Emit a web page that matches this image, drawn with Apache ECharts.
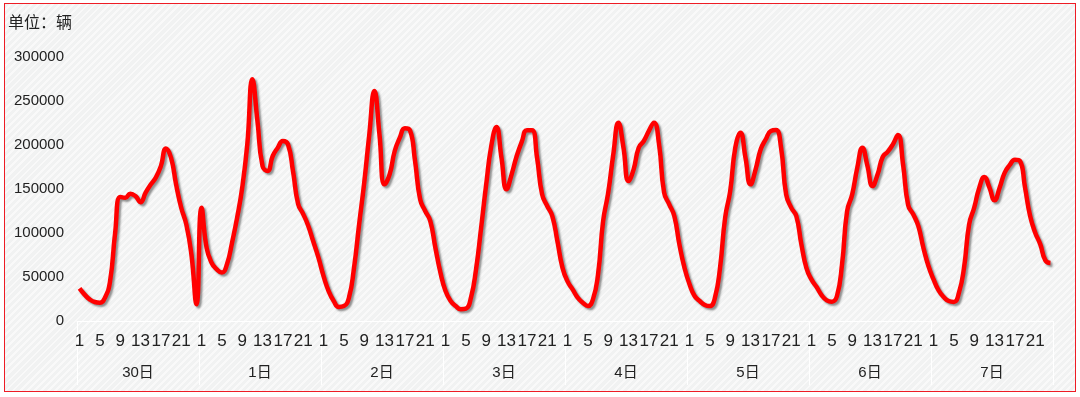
<!DOCTYPE html>
<html>
<head>
<meta charset="utf-8">
<script src="https://cdn.jsdelivr.net/npm/echarts@6/dist/echarts.min.js"></script>
<style>
  body { margin: 0; background: #fff; }
  #wrap { position: relative; width: 1080px; height: 397px; }
  #frame {
    position: absolute; left: 4px; top: 3px; width: 1070px; height: 387px;
    border: 1px solid #ee1c25;
    background: repeating-linear-gradient(135deg, #f1f2f2 0px, #f1f2f2 3px, #f9f9f9 3px, #f9f9f9 5px);
  }
  #main { position: absolute; left: 0; top: 0; width: 1080px; height: 397px; }
</style>
</head>
<body>
<div id="wrap">
  <div id="frame"></div>
  <div id="main"></div>
</div>
<script>
  // 日期与小时
  var days = ['30日', '1日', '2日', '3日', '4日', '5日', '6日', '7日'];
  var hours = [];
  for (var h = 1; h <= 24; h++) hours.push(String(h));

  // 每天24小时车辆数
  var day30 = [37000, 30000, 24600, 21600, 20800, 26500, 45000, 100000, 141000, 140000, 144700, 142000,
               135000, 145800, 155000, 162900, 176000, 196000, 185500, 155000, 128700, 109800, 76000, 19000];
  var day1 = [128700, 83000, 66000, 58700, 55000, 64400, 89000, 117400, 151500, 200800, 274600, 227000,
              176000, 170500, 187500, 197000, 204500, 200800, 170000, 133000, 121500, 108000, 90000, 72000];
  var day2 = [51000, 34000, 22700, 16000, 17000, 26500, 60600, 109800, 157200, 212000, 261400, 212000,
              155300, 166700, 193200, 208300, 219000, 216700, 181800, 138300, 125000, 113600, 83300, 54900];
  var day3 = [34000, 22700, 17000, 13300, 14000, 26500, 58700, 106000, 155300, 198900, 220500, 185600,
              149600, 166700, 187500, 203800, 216700, 216700, 185600, 143900, 130700, 119300, 90900, 60600];
  var day4 = [45000, 36000, 26500, 20800, 17000, 24600, 53000, 113600, 145800, 189400, 225400, 197000,
              159000, 172400, 197000, 204500, 216000, 225400, 200800, 145800, 132600, 119300, 87100, 60600];
  var day5 = [41700, 28400, 22700, 18200, 17000, 26500, 60600, 117400, 147700, 197000, 214000, 185600,
              155300, 172400, 195100, 206500, 216000, 217000, 197000, 143900, 128800, 119300, 87100, 60000];
  var day6 = [47000, 38600, 29200, 23500, 22000, 28400, 64400, 125000, 143900, 174300, 197000, 176100,
              153400, 166700, 186400, 192400, 200800, 211400, 178000, 131800, 121200, 108000, 83300, 62500];
  var day7 = [47300, 34800, 27300, 22700, 21600, 32200, 60600, 109800, 128800, 151500, 163600, 151500,
              137100, 151500, 168600, 177300, 183300, 181800, 151500, 119300, 100400, 87100, 68900, 65900];

  var perDay = [day30, day1, day2, day3, day4, day5, day6, day7];
  var xData = [];
  var values = [];
  for (var d = 0; d < perDay.length; d++) {
    for (var k = 0; k < 24; k++) {
      xData.push(hours[k]);
      values.push(perDay[d][k]);
    }
  }

  var font = "'Liberation Sans', Arial, 'Noto Sans CJK SC', sans-serif";

  var chart = echarts.init(document.getElementById('main'));
  chart.setOption({
    backgroundColor: 'transparent',
    animation: false,
    title: {
      text: '单位：辆',
      left: 8,
      top: 16,
      padding: 0,
      textStyle: { fontSize: 16, fontWeight: 'normal', color: '#222', fontFamily: font }
    },
    grid: { left: 77, right: 27, top: 57, bottom: 76 },
    xAxis: [{
      type: 'category',
      data: xData,
      boundaryGap: true,
      axisLine: { show: true, lineStyle: { color: '#ffffff', width: 1 } },
      axisTick: { show: false },
      axisLabel: { interval: 3, margin: 12, fontSize: 17, color: '#222', fontFamily: font }
    }, {
      type: 'category',
      data: days,
      position: 'bottom',
      boundaryGap: true,
      axisLine: { show: false },
      axisTick: { show: true, interval: 0, length: 64, lineStyle: { color: '#ffffff', width: 1 } },
      axisLabel: { interval: 0, margin: 44, fontSize: 15, color: '#222', fontFamily: font }
    }],
    yAxis: {
      type: 'value',
      min: 0,
      max: 300000,
      interval: 50000,
      axisLine: { show: false },
      axisTick: { show: false },
      splitLine: { show: false },
      axisLabel: {
        margin: 13, fontSize: 15, color: '#222', fontFamily: font,
        formatter: function (v) { return String(v); }
      }
    },
    series: [{
      type: 'line',
      xAxisIndex: 0,
      data: values,
      smooth: 0.5,
      showSymbol: false,
      lineStyle: {
        color: '#ff0000',
        width: 4.5,
        shadowColor: 'rgba(60,60,60,0.55)',
        shadowBlur: 2,
        shadowOffsetX: 2,
        shadowOffsetY: 2
      }
    }]
  });
</script>
</body>
</html>
